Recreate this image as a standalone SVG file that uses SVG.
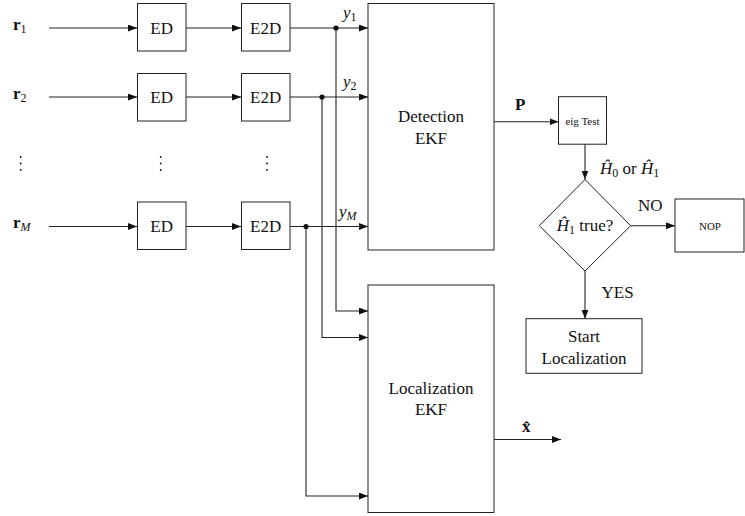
<svg xmlns="http://www.w3.org/2000/svg" width="745" height="516" viewBox="0 0 745 516">
  <style>
    .box { fill: #fff; stroke: #222; stroke-width: 1; }
    .wire { fill: none; stroke: #222; stroke-width: 1.1; }
    .t { font-family: 'Liberation Serif', 'Times New Roman', serif; font-size: 17px; fill: #111; }
    .sm { font-size: 11px; }
    .it { font-style: italic; }
    .bf { font-weight: bold; }
    .sub { font-size: 12px; }
    .dot { fill: #111; }
  </style>
  <defs>
    <marker id="arr" markerUnits="userSpaceOnUse" markerWidth="10" markerHeight="8" refX="9" refY="3.5" orient="auto">
      <path d="M0,0 L9,3.5 L0,7 z" fill="#111"/>
    </marker>
  </defs>

  <!-- input labels -->
  <g id="inputs">
    <text class="t bf" x="13" y="29.5">r<tspan class="sub" font-weight="normal" dy="3">1</tspan></text>
    <text class="t bf" x="13" y="99">r<tspan class="sub" font-weight="normal" dy="3">2</tspan></text>
    <text class="t bf" x="13" y="228">r<tspan class="sub it" font-weight="normal" dy="3">M</tspan></text>
    <g class="dot">
      <circle cx="20.7" cy="157" r="0.9"/><circle cx="20.7" cy="163.5" r="0.9"/><circle cx="20.7" cy="170" r="0.9"/>
      <circle cx="160.7" cy="157" r="0.9"/><circle cx="160.7" cy="163.5" r="0.9"/><circle cx="160.7" cy="170" r="0.9"/>
      <circle cx="267" cy="157" r="0.9"/><circle cx="267" cy="163.5" r="0.9"/><circle cx="267" cy="170" r="0.9"/>
    </g>
  </g>

  <!-- ED / E2D stages -->
  <g id="ed1"><rect class="box" x="137.5" y="3.5" width="48.5" height="47.5"/><text class="t" x="161.7" y="33.5" text-anchor="middle">ED</text></g>
  <g id="e2d1"><rect class="box" x="241.5" y="3.5" width="48.5" height="47.5"/><text class="t" x="265.7" y="33.5" text-anchor="middle">E2D</text></g>
  <g id="ed2"><rect class="box" x="137.5" y="73.5" width="48.5" height="47.5"/><text class="t" x="161.7" y="102.5" text-anchor="middle">ED</text></g>
  <g id="e2d2"><rect class="box" x="241.5" y="73.5" width="48.5" height="47.5"/><text class="t" x="265.7" y="102.5" text-anchor="middle">E2D</text></g>
  <g id="edM"><rect class="box" x="137.5" y="202" width="48.5" height="47.5"/><text class="t" x="161.7" y="232" text-anchor="middle">ED</text></g>
  <g id="e2dM"><rect class="box" x="241.5" y="202" width="48.5" height="47.5"/><text class="t" x="265.7" y="232" text-anchor="middle">E2D</text></g>

  <!-- filters -->
  <g id="detection-ekf">
    <rect class="box" x="368" y="3.5" width="126" height="246.5"/>
    <text class="t" x="431" y="122" text-anchor="middle">Detection</text>
    <text class="t" x="431" y="143.5" text-anchor="middle">EKF</text>
  </g>
  <g id="localization-ekf">
    <rect class="box" x="368" y="285" width="126" height="227.5"/>
    <text class="t" x="431" y="394" text-anchor="middle">Localization</text>
    <text class="t" x="431" y="415" text-anchor="middle">EKF</text>
  </g>

  <!-- decision chain -->
  <g id="eig-test">
    <rect class="box" x="558.5" y="96.7" width="48" height="47.5"/>
    <text class="t sm" x="582.5" y="125" text-anchor="middle">eig Test</text>
  </g>
  <g id="decision">
    <path class="box" d="M585,179.5 L630.7,225.7 L585,271 L539.3,225.7 z"/>
    <text class="t" x="585" y="231" text-anchor="middle"><tspan class="it">Ĥ</tspan><tspan class="sub" dy="3">1</tspan><tspan dy="-3"> true?</tspan></text>
  </g>
  <g id="nop">
    <rect class="box" x="675" y="199" width="69" height="53"/>
    <text class="t sm" x="710" y="229.5" text-anchor="middle">NOP</text>
  </g>
  <g id="start-localization">
    <rect class="box" x="526" y="318.7" width="116" height="54.6"/>
    <text class="t" x="584" y="342" text-anchor="middle">Start</text>
    <text class="t" x="584" y="363.5" text-anchor="middle">Localization</text>
  </g>

  <!-- connectors -->
  <g id="connectors">
    <g class="wire" marker-end="url(#arr)">
      <line x1="49" y1="28" x2="137" y2="28"/>
      <line x1="186" y1="28" x2="241" y2="28"/>
      <line x1="290" y1="28" x2="368" y2="28"/>
      <line x1="49" y1="97" x2="137" y2="97"/>
      <line x1="186" y1="97" x2="241" y2="97"/>
      <line x1="290" y1="97" x2="368" y2="97"/>
      <line x1="49" y1="226.5" x2="137" y2="226.5"/>
      <line x1="186" y1="226.5" x2="241" y2="226.5"/>
      <line x1="290" y1="226.5" x2="368" y2="226.5"/>
      <polyline points="336,28 336,311 368,311"/>
      <polyline points="322,97 322,337.5 368,337.5"/>
      <polyline points="306,226.5 306,496 368,496"/>
      <line x1="494" y1="121.7" x2="558.5" y2="121.7"/>
      <line x1="585" y1="144.2" x2="585" y2="179.5"/>
      <line x1="630.7" y1="225.7" x2="675" y2="225.7"/>
      <line x1="585" y1="271" x2="585" y2="318.7"/>
      <line x1="494" y1="439.5" x2="561" y2="439.5"/>
    </g>
    <circle class="dot" cx="336" cy="28" r="2.6"/>
    <circle class="dot" cx="322" cy="97" r="2.6"/>
    <circle class="dot" cx="306" cy="226.5" r="2.6"/>
    <!-- signal labels -->
    <text class="t it" x="343" y="18">y<tspan class="sub" font-style="normal" dy="3">1</tspan></text>
    <text class="t it" x="343" y="87">y<tspan class="sub" font-style="normal" dy="3">2</tspan></text>
    <text class="t it" x="339" y="217">y<tspan class="sub" dy="3">M</tspan></text>
    <text class="t bf" x="515" y="110">P</text>
    <text class="t" x="600" y="174"><tspan class="it">Ĥ</tspan><tspan class="sub" dy="3">0</tspan><tspan dy="-3"> or </tspan><tspan class="it">Ĥ</tspan><tspan class="sub" dy="3">1</tspan></text>
    <text class="t" x="638" y="211">NO</text>
    <text class="t" x="601.5" y="298">YES</text>
    <text class="t bf" x="522" y="432">x̂</text>
  </g>
</svg>
